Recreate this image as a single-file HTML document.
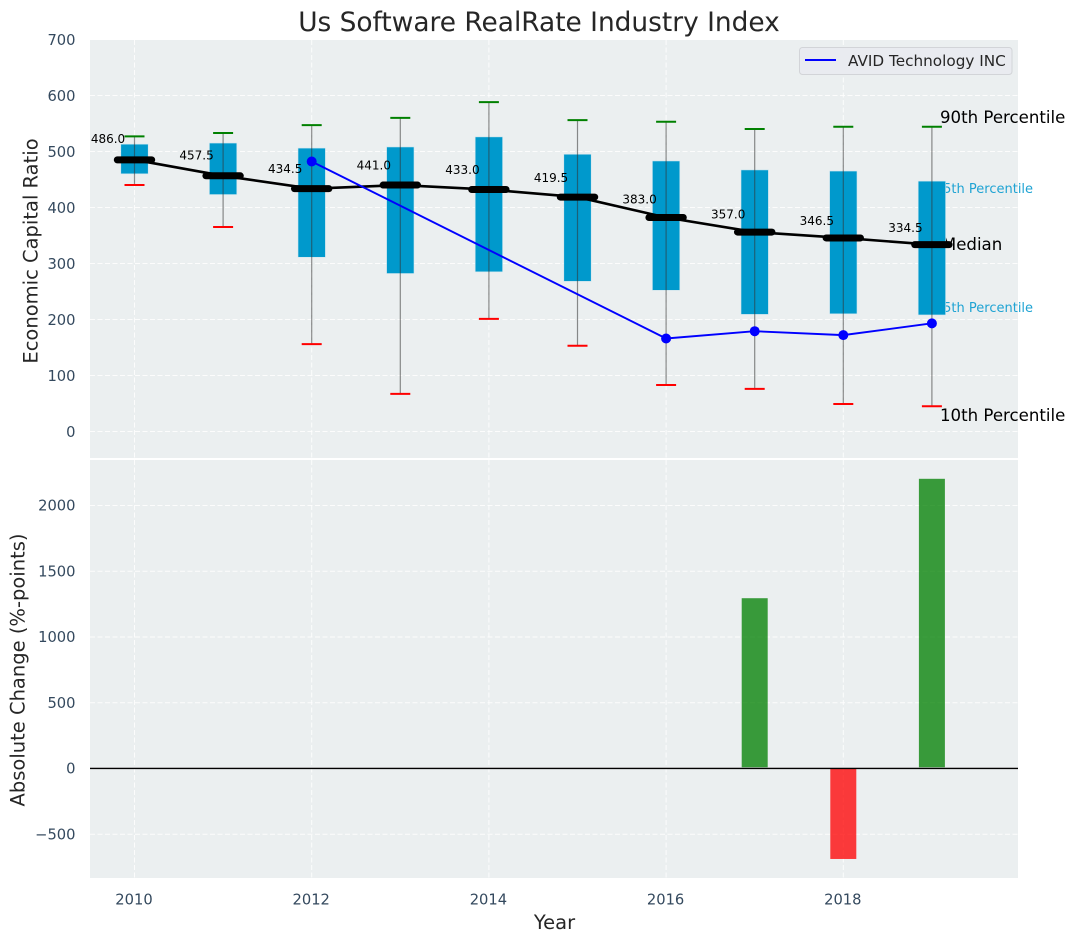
<!DOCTYPE html>
<html>
<head>
<meta charset="utf-8">
<title>Us Software RealRate Industry Index</title>
<style>
html,body{margin:0;padding:0;background:#fff;}
#chart{display:block;position:absolute;left:0;top:0;}
text{font-family:"DejaVu Sans","Liberation Sans",sans-serif;}
</style>
</head>
<body>
<svg id="chart" xmlns="http://www.w3.org/2000/svg" width="1075" height="942" viewBox="0 0 1075 942"></svg>
<script>
const years = [2010, 2011, 2012, 2013, 2014, 2015, 2016, 2017, 2018, 2019];
const p90 = [528, 534, 548, 561, 589, 557, 554, 541, 545, 545];
const p75 = [514, 516, 507, 509, 527, 496, 484, 468, 466, 448];
const medians = [486.0, 457.5, 434.5, 441.0, 433.0, 419.5, 383.0, 357.0, 346.5, 334.5];
const p25 = [461, 424, 312, 283, 286, 269, 253, 210, 211, 209];
const p10 = [441, 366, 157, 68, 202, 154, 84, 77, 50, 46];
const avidYears = [2012, 2016, 2017, 2018, 2019];
const avidValues = [483, 167, 180, 173, 194];
const changeYears = [2017, 2018, 2019];
const changeValues = [1295, -688, 2203];
const topTicks = [0, 100, 200, 300, 400, 500, 600, 700];
const bottomTicks = [-500, 0, 500, 1000, 1500, 2000];
const xTicks = [2010, 2012, 2014, 2016, 2018];

const sx = v => 134.5 + (v - 2010) * 88.6;
const syTop = v => 432 - v * 0.56;
const syBottom = v => 768.5 - v * 0.1315;

const NS = 'http://www.w3.org/2000/svg';
const svg = document.getElementById('chart');
function mk(tag, attrs, parent) {
  const el = document.createElementNS(NS, tag);
  for (const k in attrs) el.setAttribute(k, attrs[k]);
  (parent || svg).appendChild(el);
  return el;
}
function txt(s, attrs, parent) {
  const el = mk('text', attrs, parent);
  el.textContent = s;
  return el;
}
const GRID = {stroke:'#ffffff', 'stroke-width':1, 'stroke-dasharray':'5 2.5', opacity:0.85};
const TICKCOL = '#34495e';
const LBLCOL = '#262626';
const TICKSIZE = 14.7;

// panels
const panelTop = mk('rect', {x:90, y:40, width:928, height:418, fill:'#ebeff0'});


const panelBottom = mk('rect', {x:90, y:460, width:928, height:418, fill:'#ebeff0'});



// grid
xTicks.forEach(t => {
  const g1 = mk('line', {x1:sx(t), x2:sx(t), y1:40, y2:458, ...GRID});
  
  
  const g2 = mk('line', {x1:sx(t), x2:sx(t), y1:460, y2:878, ...GRID});
  
  
  const tl = txt(String(t), {x:sx(t) - 0.5, y:904.5, 'text-anchor':'middle', 'font-size':TICKSIZE, fill:TICKCOL});
  
  
});
topTicks.forEach(t => {
  const g = mk('line', {x1:90, x2:1018, y1:syTop(t) - 0.5, y2:syTop(t) - 0.5, ...GRID});
  
  
  const tl = txt(String(t), {x:75.5, y:syTop(t) + 5, 'text-anchor':'end', 'font-size':TICKSIZE, fill:TICKCOL});
  
  
});
bottomTicks.forEach(t => {
  const g = mk('line', {x1:90, x2:1018, y1:syBottom(t), y2:syBottom(t), ...GRID});
  
  
  const label = t < 0 ? '\u2212' + Math.abs(t) : String(t);
  const tl = txt(label, {x:75.5, y:syBottom(t) + 5, 'text-anchor':'end', 'font-size':TICKSIZE, fill:TICKCOL});
  
  
});

// percentile annotations that sit behind the last box
const last = years.length - 1;
const a75 = txt('75th Percentile', {x:sx(years[last]) + 3, y:syTop(p75[last]) + 12, 'font-size':13, fill:'#1fa3d3'});


const a25 = txt('25th Percentile', {x:sx(years[last]) + 3, y:syTop(p25[last]) - 3, 'font-size':13, fill:'#1fa3d3'});


const aMed = txt('Median', {x:sx(years[last]) + 10, y:syTop(medians[last]) + 5.5, 'font-size':16.6, fill:'#000'});



// boxes and whiskers
years.forEach((y, i) => {
  const cx = sx(y);
  const box = mk('rect', {x:cx - 13.7, y:syTop(p75[i]), width:27.4, height:syTop(p25[i]) - syTop(p75[i]), fill:'#0099cc', stroke:'#cfe6ee', 'stroke-width':0.6});
  
  
  const wh = mk('line', {x1:cx, x2:cx, y1:syTop(p90[i]), y2:syTop(p10[i]), stroke:'#333', 'stroke-width':1.2, opacity:0.55});
  
  
  const capHigh = mk('line', {x1:cx - 10, x2:cx + 10, y1:syTop(p90[i]), y2:syTop(p90[i]), stroke:'#008000', 'stroke-width':2});
  
  
  const capLow = mk('line', {x1:cx - 10, x2:cx + 10, y1:syTop(p10[i]), y2:syTop(p10[i]), stroke:'#ff0000', 'stroke-width':2});
  
  
});

// median line
const medLine = mk('polyline', {points:years.map((y, i) => sx(y) + ',' + syTop(medians[i])).join(' '), fill:'none', stroke:'#000', 'stroke-width':2.6});


years.forEach((y, i) => {
  const cx = sx(y), cy = syTop(medians[i]);
  const m = mk('line', {x1:cx - 17.2, x2:cx + 17.2, y1:cy, y2:cy, stroke:'#000', 'stroke-width':7, 'stroke-linecap':'round'});
  
  
  const labelY = syTop(medians[i] * 1.05) - 3.4;
  const l = txt(medians[i].toFixed(1), {x:cx - 26.5, y:labelY, 'text-anchor':'middle', 'font-size':12, fill:'#000'});
  
  
});

// AVID series
const avidLine = mk('polyline', {points:avidYears.map((y, i) => sx(y) + ',' + syTop(avidValues[i])).join(' '), fill:'none', stroke:'#0000ff', 'stroke-width':1.9});


avidYears.forEach((y, i) => {
  const c = mk('circle', {cx:sx(y), cy:syTop(avidValues[i]), r:5, fill:'#0000ff'});
  
  
});

// annotations on top
const a90 = txt('90th Percentile', {x:940, y:syTop(p90[last]) - 4, 'font-size':16.6, fill:'#000'});


const a10 = txt('10th Percentile', {x:940, y:syTop(p10[last]) + 15, 'font-size':16.6, fill:'#000'});



// change bars
changeYears.forEach((y, i) => {
  const v = changeValues[i];
  const top = Math.min(syBottom(v), syBottom(0));
  const h = Math.abs(syBottom(v) - syBottom(0));
  const b = mk('rect', {x:sx(y) - 13, y:top, width:26, height:h, fill:v >= 0 ? '#008000' : '#ff0000', 'fill-opacity':0.76});
  
  
});
const zeroShadow = mk('line', {x1:90, x2:1018, y1:syBottom(0) - 0.8, y2:syBottom(0) - 0.8, stroke:'#bbbbbb', 'stroke-width':1});


const zero = mk('line', {x1:90, x2:1018, y1:syBottom(0), y2:syBottom(0), stroke:'#000', 'stroke-width':1.3});



// legend
const legend = mk('g', {});


mk('rect', {x:799.5, y:47.5, width:212.5, height:27, rx:3, fill:'#e9ebf0', stroke:'#d2d4d8', 'stroke-width':1}, legend);
const legLine = mk('line', {x1:805, x2:836, y1:60, y2:60, stroke:'#0000ff', 'stroke-width':1.9}, legend);


const legText = txt('AVID Technology INC', {x:848, y:66, 'font-size':15.25, fill:LBLCOL}, legend);



// titles
const title = txt('Us Software RealRate Industry Index', {x:539, y:31, 'text-anchor':'middle', 'font-size':26.4, fill:LBLCOL});


const yl1 = txt('Economic Capital Ratio', {x:0, y:0, 'text-anchor':'middle', 'font-size':19.5, fill:LBLCOL, transform:'translate(37.5 251) rotate(-90)'});


const yl2 = txt('Absolute Change (%-points)', {x:0, y:0, 'text-anchor':'middle', 'font-size':19.5, fill:LBLCOL, transform:'translate(24.5 670) rotate(-90)'});


const xl = txt('Year', {x:554.5, y:929, 'text-anchor':'middle', 'font-size':19.5, fill:LBLCOL});


</script>
</body>
</html>
